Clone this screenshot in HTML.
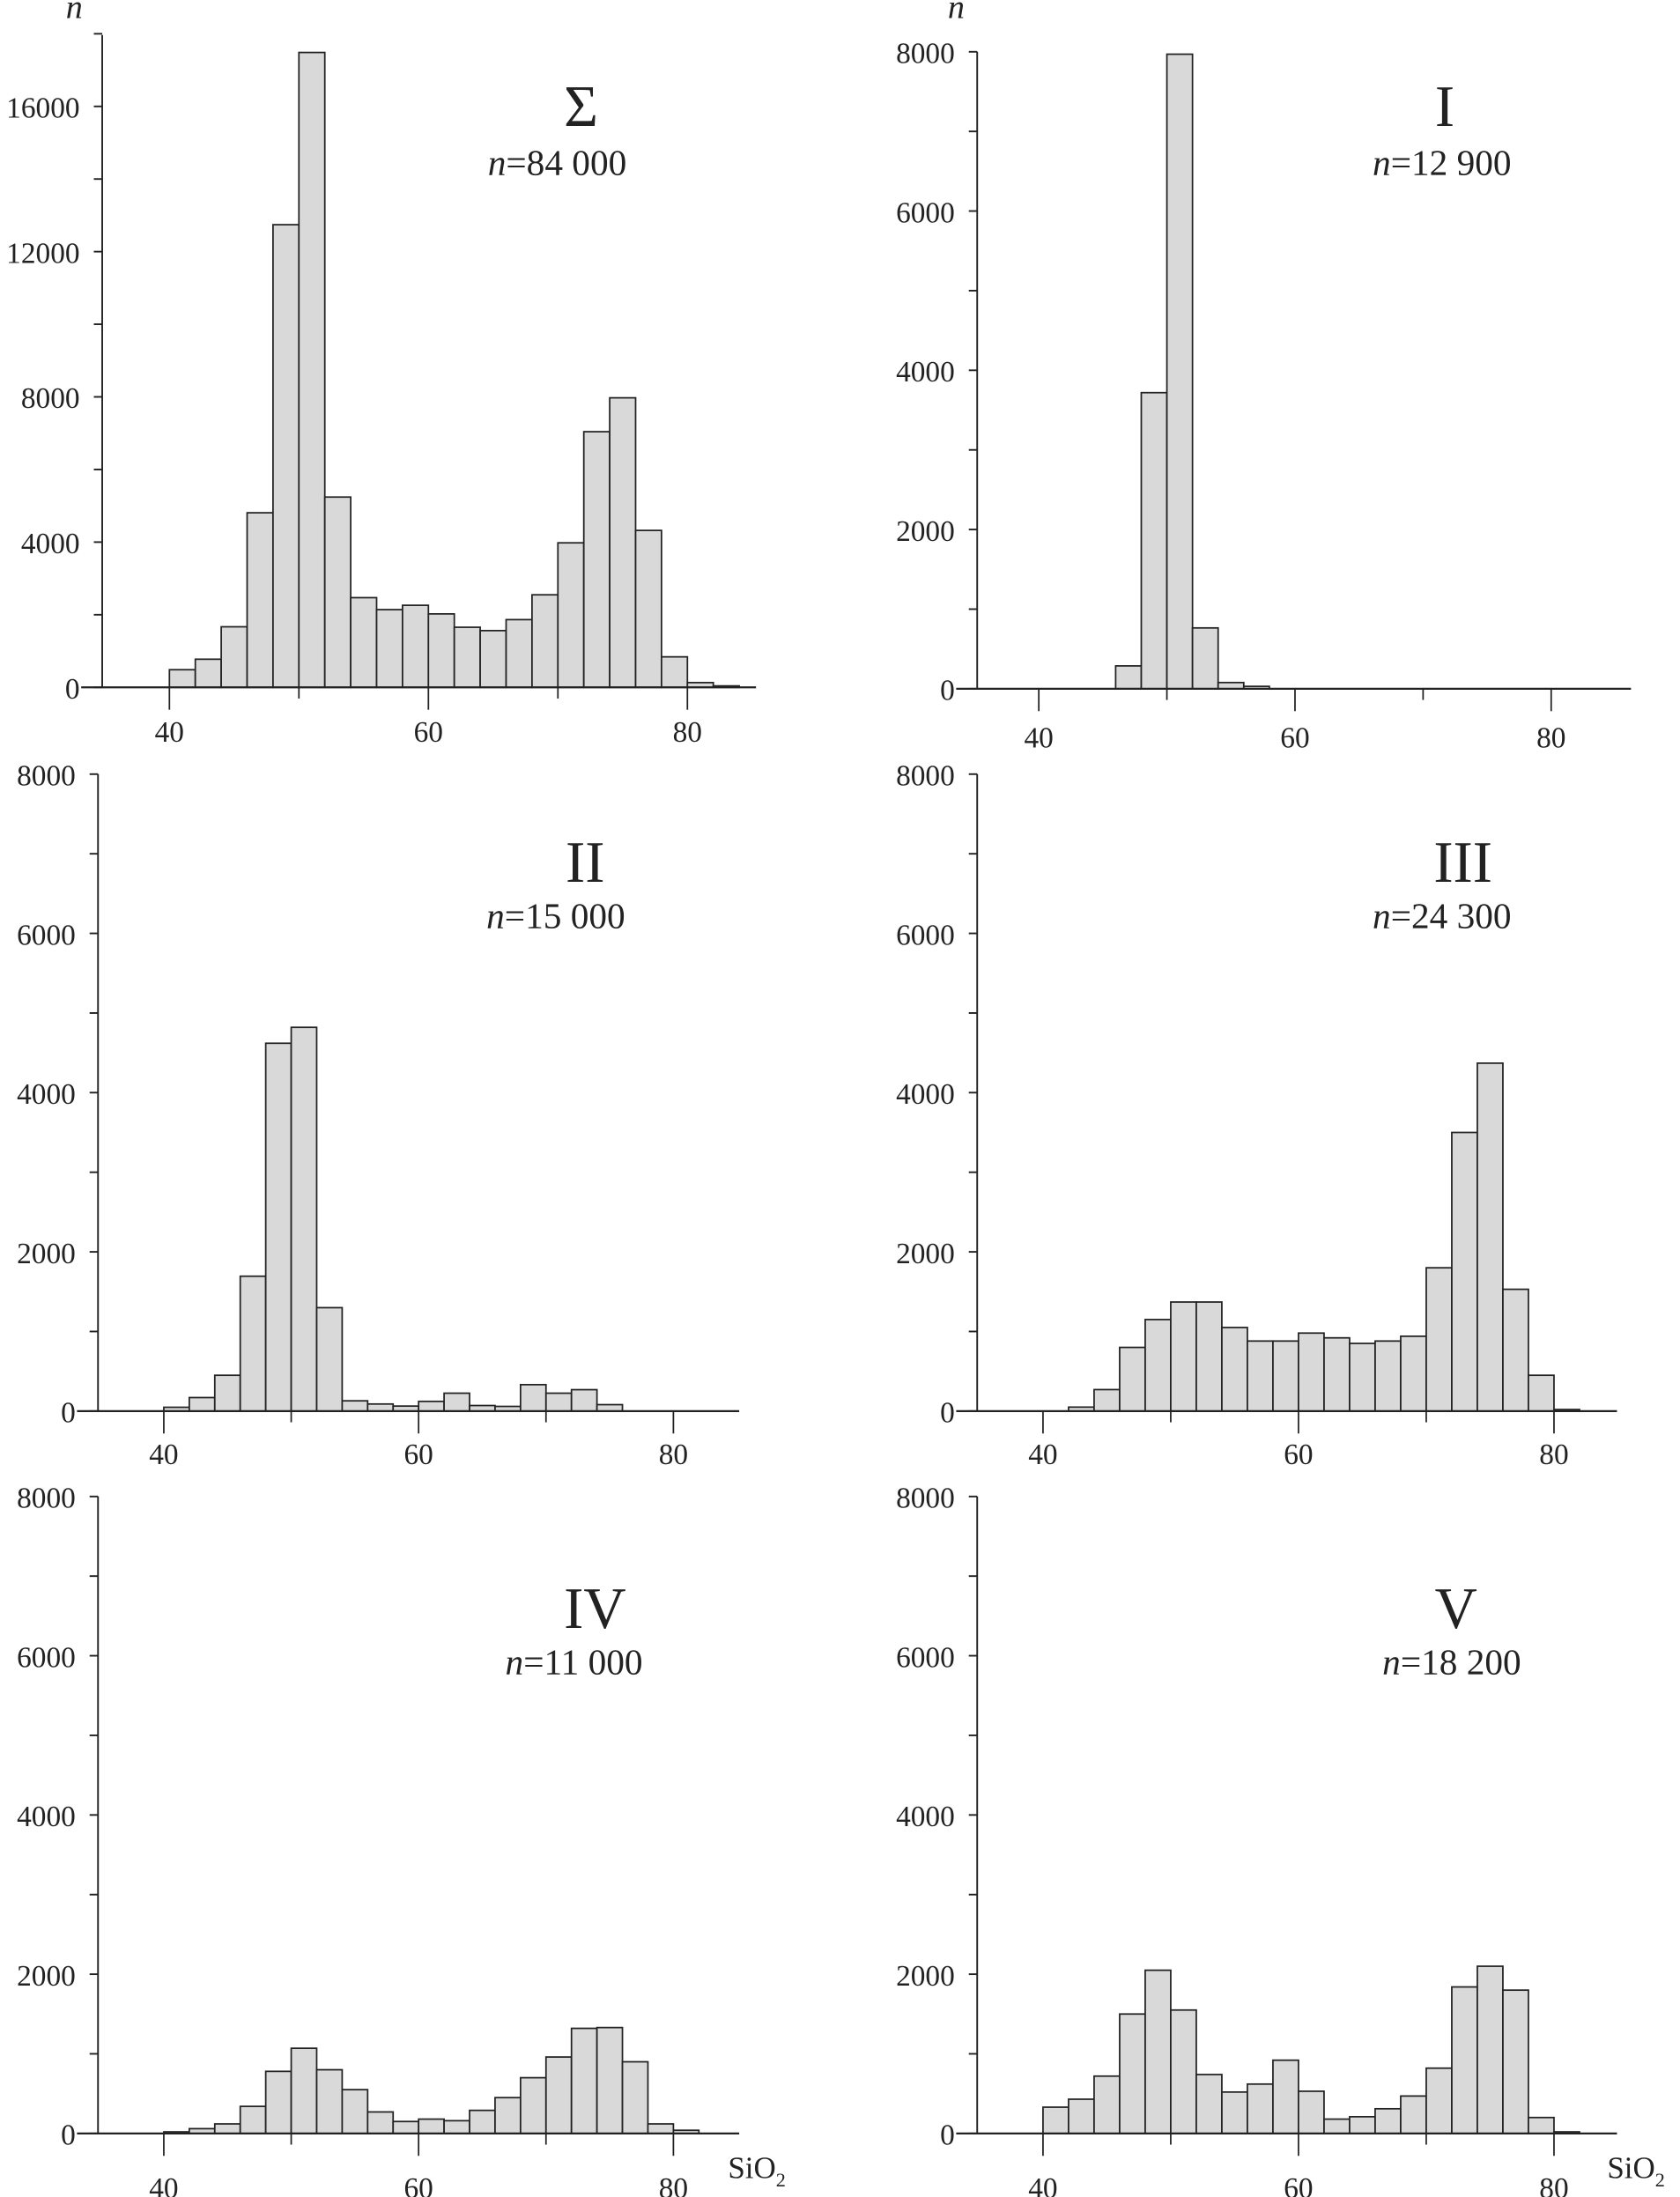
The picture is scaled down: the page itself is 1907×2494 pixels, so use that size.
<!DOCTYPE html>
<html><head><meta charset="utf-8"><style>
html,body{margin:0;padding:0;background:#fff}
svg{display:block}
text{font-family:"Liberation Serif",serif;fill:#222}
</style></head><body>
<svg id="chart" width="1907" height="2494" viewBox="0 0 1200 1569.4" xmlns="http://www.w3.org/2000/svg"></svg>
<script>
const binStart = 40, binWidth = 2;
const sumValues = [486,775,1668,4808,12742,17485,5241,2470,2141,2260,2023,1655,1563,1865,2549,3980,7041,7974,4322,840,131,40];
const iValues = [0,0,0,287,3719,7970,764,78,30];
const iiValues = [48,170,450,1694,4620,4820,1299,129,89,63,122,225,70,59,332,225,269,81];
const iiiValues = [0,50,270,800,1150,1370,1370,1050,880,880,980,920,850,880,940,1800,3500,4370,1530,450,20];
const ivValues = [20,60,120,340,780,1070,800,550,270,150,180,160,290,450,700,960,1320,1330,900,120,40];
const vValues = [330,430,720,1500,2050,1550,740,520,620,920,530,180,210,310,470,820,1840,2100,1800,200,20];
const sumTicks = [0,4000,8000,12000,16000];
const smallTicks = [0,2000,4000,6000,8000];
const xTicks = [40,60,80];
const titles = ["Σ","I","II","III","IV","V"];
const counts = ["84 000","12 900","15 000","24 300","11 000","18 200"];

const svg = document.getElementById('chart');
const NS = 'http://www.w3.org/2000/svg';
function mk(tag, attrs, parent){const e=document.createElementNS(NS,tag);for(const k in attrs)e.setAttribute(k,attrs[k]);(parent||svg).appendChild(e);return e;}

const panels = [
 {vals:sumValues, ax:73, x40:121, x80:491, y0:491, yTop:25, maxV:16000, maxY:76, ticks:sumTicks, minor:2000, xEnd:540, tx:415, ty:90, cx:398, cy:125, lblY:530},
 {vals:iValues, ax:698, x40:742, x80:1108, y0:492, yTop:37, maxV:8000, maxY:37, ticks:smallTicks, minor:1000, xEnd:1165, tx:1032, ty:90, cx:1030, cy:125, lblY:534},
 {vals:iiValues, ax:70, x40:117, x80:481, y0:1008, yTop:553, maxV:8000, maxY:553, ticks:smallTicks, minor:1000, xEnd:528, tx:418, ty:630, cx:397, cy:663, lblY:1046},
 {vals:iiiValues, ax:698, x40:745, x80:1110, y0:1008, yTop:553, maxV:8000, maxY:553, ticks:smallTicks, minor:1000, xEnd:1155, tx:1045, ty:630, cx:1030, cy:663, lblY:1046},
 {vals:ivValues, ax:70, x40:117, x80:481, y0:1524, yTop:1069, maxV:8000, maxY:1069, ticks:smallTicks, minor:1000, xEnd:528, tx:425, ty:1163, cx:410, cy:1196, lblY:1570},
 {vals:vValues, ax:698, x40:745, x80:1110, y0:1524, yTop:1069, maxV:8000, maxY:1069, ticks:smallTicks, minor:1000, xEnd:1155, tx:1040, ty:1163, cx:1037, cy:1196, lblY:1570}
];

panels.forEach((p,pi)=>{
  const g = mk('g',{});
  
  
  const xs = v => p.x40 + (v-40)*(p.x80-p.x40)/40;
  const ys = v => p.y0 - v*(p.y0-p.maxY)/p.maxV;
  p.vals.forEach((v,i)=>{
    if(v<=0) return;
    const x0 = xs(binStart+i*binWidth), x1 = xs(binStart+(i+1)*binWidth);
    const r = mk('rect',{x:x0,y:ys(v),width:x1-x0,height:p.y0-ys(v),fill:'#d9d9d9',stroke:'#222','stroke-width':1.1},g);
    
    
  });
  const ya = mk('line',{x1:p.ax,y1:p.yTop,x2:p.ax,y2:p.y0,stroke:'#222','stroke-width':1.2},g);
  
  
  const xa = mk('line',{x1:p.ax-15,y1:p.y0,x2:p.xEnd,y2:p.y0,stroke:'#222','stroke-width':1.4},g);
  
  
  const top = p.ticks[p.ticks.length-1];
  for(let v=0; v<=top+1e-6 || (pi===0 && v<=18000); v+=p.minor){
    const y=ys(v); if(y<p.yTop-1) break;
    mk('line',{x1:p.ax-6,y1:y,x2:p.ax,y2:y,stroke:'#222','stroke-width':1.2},g);
  }
  p.ticks.forEach(v=>{
    const t = mk('text',{x:p.ax-16,y:ys(v)+8,'text-anchor':'end','font-size':21},g);
    t.textContent = v;
    
    
  });
  [40,50,60,70,80].forEach(v=>{
    const major = xTicks.includes(v);
    mk('line',{x1:xs(v),y1:p.y0,x2:xs(v),y2:p.y0+(major?16:8),stroke:'#222','stroke-width':1.1},g);
  });
  xTicks.forEach(v=>{
    const t = mk('text',{x:xs(v),y:p.lblY,'text-anchor':'middle','font-size':21},g);
    t.textContent = v;
    
    
  });
  const tt = mk('text',{x:p.tx,y:p.ty,'text-anchor':'middle','font-size':42},g);
  tt.textContent = titles[pi];
  
  
  const ct = mk('text',{x:p.cx,y:p.cy,'text-anchor':'middle','font-size':26},g);
  ct.innerHTML = '<tspan font-style="italic">n</tspan>=' + counts[pi];
  
  
});
</script>
<svg style="position:absolute;left:0;top:0" width="1907" height="2494" viewBox="0 0 1200 1569.4" xmlns="http://www.w3.org/2000/svg">
<text x="47" y="13" font-size="24" font-style="italic">n</text>
<text x="677" y="13" font-size="24" font-style="italic">n</text>
<text x="520" y="1556" font-size="22">SiO<tspan font-size="14" dy="6">2</tspan></text>
<text x="1148" y="1556" font-size="22">SiO<tspan font-size="14" dy="6">2</tspan></text>
</svg>
</body></html>
